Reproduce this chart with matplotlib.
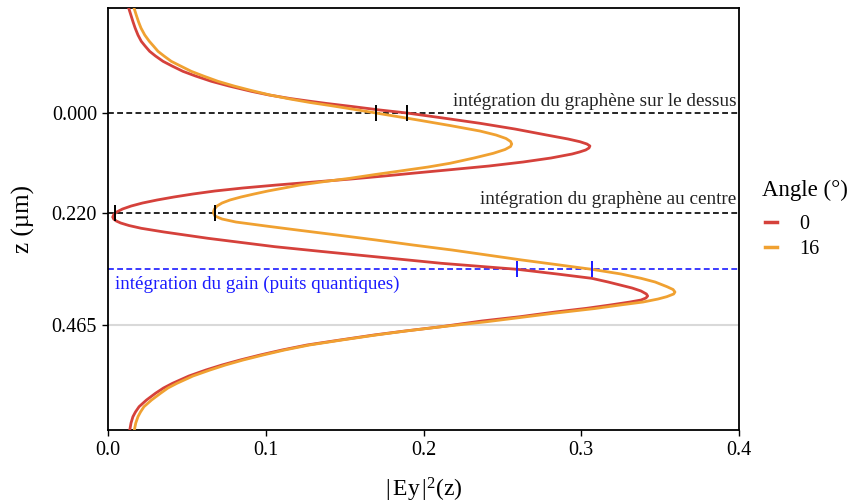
import matplotlib
matplotlib.use("Agg")
import matplotlib.pyplot as plt

# ---- data ----
z_red = [-0.2308, -0.2154, -0.2000, -0.1868, -0.1714, -0.1576, -0.1473, -0.1356,
         -0.1253, -0.1136, -0.1033, -0.0916, -0.0813, -0.0697, -0.0593, -0.0477,
         -0.0396, -0.0319, -0.0264, -0.0209, -0.0143, -0.0066, 0.0000, 0.0110,
         0.0226, 0.0352, 0.0484, 0.0571, 0.0631, 0.0681, 0.0725, 0.0769, 0.0813,
         0.0857, 0.0901, 0.0989, 0.1077, 0.1165, 0.1253, 0.1319, 0.1385, 0.1451,
         0.1516, 0.1582, 0.1648, 0.1714, 0.1780, 0.1846, 0.1912, 0.1978, 0.2044,
         0.2110, 0.2176, 0.2231, 0.2286, 0.2330, 0.2374, 0.2418, 0.2473, 0.2534,
         0.2615, 0.2754, 0.2938, 0.3044, 0.3158, 0.3303, 0.3435, 0.3538, 0.3633,
         0.3714, 0.3780, 0.3846, 0.3912, 0.3978, 0.4022, 0.4066, 0.4110, 0.4154,
         0.4220, 0.4292, 0.4374, 0.4477, 0.4571, 0.4697, 0.4791, 0.4879, 0.4989,
         0.5099, 0.5209, 0.5319, 0.5429, 0.5538, 0.5648, 0.5780, 0.5941, 0.6044,
         0.6160, 0.6308, 0.6455, 0.6571, 0.6675, 0.6813, 0.6967]
e_red = [0.0131, 0.0145, 0.0159, 0.0172, 0.0190, 0.0211, 0.0235, 0.0264,
         0.0301, 0.0349, 0.0406, 0.0475, 0.0555, 0.0655, 0.0767, 0.0908,
         0.1021, 0.1154, 0.1268, 0.1388, 0.1547, 0.1724, 0.1895, 0.2124,
         0.2358, 0.2580, 0.2781, 0.2916, 0.2992, 0.3036, 0.3055, 0.3049, 0.3028,
         0.2989, 0.2942, 0.2808, 0.2631, 0.2415, 0.2149, 0.1946, 0.1750, 0.1540,
         0.1306, 0.1071, 0.0856, 0.0678, 0.0539, 0.0418, 0.0311, 0.0219, 0.0147,
         0.0092, 0.0055, 0.0037, 0.0030, 0.0036, 0.0053, 0.0081, 0.0133, 0.0211,
         0.0355, 0.0634, 0.1057, 0.1357, 0.1691, 0.2113, 0.2593, 0.2846, 0.3066,
         0.3170, 0.3246, 0.3322, 0.3379, 0.3413, 0.3421, 0.3410, 0.3379, 0.3309,
         0.3183, 0.3035, 0.2834, 0.2612, 0.2371, 0.2111, 0.1883, 0.1686, 0.1471,
         0.1261, 0.1103, 0.0964, 0.0837, 0.0723, 0.0621, 0.0513, 0.0409, 0.0352,
         0.0301, 0.0244, 0.0197, 0.0174, 0.0158, 0.0146, 0.0138]

z_orange = [-0.2308, -0.2154, -0.2000, -0.1868, -0.1714, -0.1576, -0.1473, -0.1356,
            -0.1253, -0.1136, -0.1033, -0.0916, -0.0813, -0.0697, -0.0593, -0.0495,
            -0.0396, -0.0308, -0.0231, -0.0165, -0.0077, 0.0000, 0.0088, 0.0154,
            0.0275, 0.0396, 0.0484, 0.0560, 0.0626, 0.0681, 0.0736, 0.0802, 0.0886,
            0.0989, 0.1105, 0.1187, 0.1275, 0.1352, 0.1435, 0.1505, 0.1582, 0.1648,
            0.1714, 0.1780, 0.1846, 0.1912, 0.1978, 0.2044, 0.2110, 0.2154, 0.2198,
            0.2264, 0.2330, 0.2396, 0.2484, 0.2571, 0.2681, 0.2791, 0.2901, 0.3011,
            0.3121, 0.3231, 0.3330, 0.3435, 0.3538, 0.3633, 0.3714, 0.3818, 0.3879,
            0.3934, 0.3978, 0.4037, 0.4088, 0.4154, 0.4220, 0.4297, 0.4402, 0.4495,
            0.4587, 0.4697, 0.4791, 0.4879, 0.4989, 0.5099, 0.5209, 0.5319, 0.5429,
            0.5538, 0.5648, 0.5780, 0.5941, 0.6044, 0.6160, 0.6308, 0.6455, 0.6571,
            0.6675, 0.6813, 0.6967]
e_orange = [0.0165, 0.0179, 0.0194, 0.0209, 0.0233, 0.0262, 0.0288, 0.0317,
            0.0355, 0.0401, 0.0460, 0.0528, 0.0605, 0.0697, 0.0799, 0.0908,
            0.1027, 0.1154, 0.1281, 0.1407, 0.1566, 0.1699, 0.1851, 0.1965,
            0.2168, 0.2358, 0.2460, 0.2523, 0.2552, 0.2559, 0.2552, 0.2517, 0.2442,
            0.2320, 0.2168, 0.2029, 0.1851, 0.1693, 0.1534, 0.1376, 0.1217, 0.1116,
            0.1014, 0.0926, 0.0843, 0.0773, 0.0723, 0.0691, 0.0675, 0.0670, 0.0669,
            0.0678, 0.0723, 0.0811, 0.1002, 0.1198, 0.1452, 0.1699, 0.1933, 0.2181,
            0.2403, 0.2624, 0.2840, 0.3066, 0.3252, 0.3379, 0.3468, 0.3544, 0.3582,
            0.3594, 0.3586, 0.3542, 0.3487, 0.3392, 0.3246, 0.3087, 0.2823, 0.2612,
            0.2401, 0.2117, 0.1889, 0.1699, 0.1483, 0.1277, 0.1119, 0.0983, 0.0856,
            0.0745, 0.0647, 0.0539, 0.0437, 0.0380, 0.0333, 0.0276, 0.0228, 0.0206,
            0.0190, 0.0176, 0.0167]

angles = ["0", "16"]
z_graphene_top = 0.0
z_graphene_center = 0.22
z_gain = 0.3435
z_grey = 0.465
marks_top = [0.1895, 0.1699]
marks_center = [0.0046, 0.0678]
marks_gain = [0.2591, 0.3066]

yticks = [0.0, 0.22, 0.465]
yticklabels = ["0.000", "0.220", "0.465"]
xticks = [0.0, 0.1, 0.2, 0.3, 0.4]
xticklabels = ["0.0", "0.1", "0.2", "0.3", "0.4"]

RED = "#d5413b"
ORANGE = "#f0a131"
BLUE = "#1a1aff"

plt.rcParams["font.family"] = ["Liberation Serif", "DejaVu Serif"]
plt.rcParams["mathtext.fontset"] = "custom"
plt.rcParams["mathtext.rm"] = "Liberation Serif"
plt.rcParams["mathtext.it"] = "Liberation Serif:italic"

fig = plt.figure(figsize=(8.55, 5.04), dpi=100)
ax = fig.add_axes([108 / 855, 1 - 430 / 504, (739 - 108) / 855, (430 - 8) / 504])

ax.axhline(z_grey, color="#d9d9d9", lw=1.5, zorder=1)
ax.axhline(z_graphene_top, color="black", ls="--", lw=1.2, dashes=(3.5, 2), zorder=2)
ax.axhline(z_graphene_center, color="black", ls="--", lw=1.2, dashes=(3.5, 2), zorder=2)
ax.axhline(z_gain, color=BLUE, ls="--", lw=1.2, dashes=(3.5, 2), zorder=2)

l1, = ax.plot(e_red, z_red, color=RED, lw=2.0, label=angles[0], zorder=3,
              solid_joinstyle="round")
l2, = ax.plot(e_orange, z_orange, color=ORANGE, lw=2.0, label=angles[1], zorder=4,
              solid_joinstyle="round")

ax.plot(marks_top, [z_graphene_top] * 2, ls="none", marker="|", ms=11, mew=1.4,
        color="black", zorder=5)
ax.plot(marks_center, [z_graphene_center] * 2, ls="none", marker="|", ms=11, mew=1.4,
        color="black", zorder=5)
ax.plot(marks_gain, [z_gain] * 2, ls="none", marker="|", ms=11, mew=1.4,
        color=BLUE, zorder=5)

ax.text(0.3985, -0.016, "intégration du graphène sur le dessus", ha="right",
        va="baseline", fontsize=13.8, color="#222222")
ax.text(0.3985, 0.199, "intégration du graphène au centre", ha="right",
        va="baseline", fontsize=13.8, color="#222222")
ax.text(0.0045, 0.386, "intégration du gain (puits quantiques)", ha="left",
        va="baseline", fontsize=13.7, color=BLUE)

ax.set_xlim(0, 0.4)
ax.set_ylim(0.6967, -0.2308)
ax.set_xticks(xticks)
ax.set_xticklabels(xticklabels)
ax.set_yticks(yticks)
ax.set_yticklabels(yticklabels)
ax.tick_params(direction="out", length=4, width=1.0, labelsize=14.5, pad=4)
for s in ax.spines.values():
    s.set_linewidth(1.3)
    s.set_color("black")

ax.set_xlabel(r"$|\,$Ey$\,|^2$(z)", fontsize=17, labelpad=11)
ax.set_ylabel("z (µm)", fontsize=18, labelpad=12)

fig.text(762 / 855, 1 - 190 / 504, "Angle (°)", ha="left", va="center",
         fontsize=16.5)
leg = fig.legend(handles=[l1, l2], loc="upper left",
                 bbox_to_anchor=(765 / 855, 1 - 215 / 504), frameon=False,
                 fontsize=14.5, handlelength=0.6,
                 handletextpad=1.1, labelspacing=0.3, borderpad=0,
                 borderaxespad=0)
for h in leg.legend_handles:
    h.set_linewidth(2.5)

fig.savefig("out.png", dpi=100)
